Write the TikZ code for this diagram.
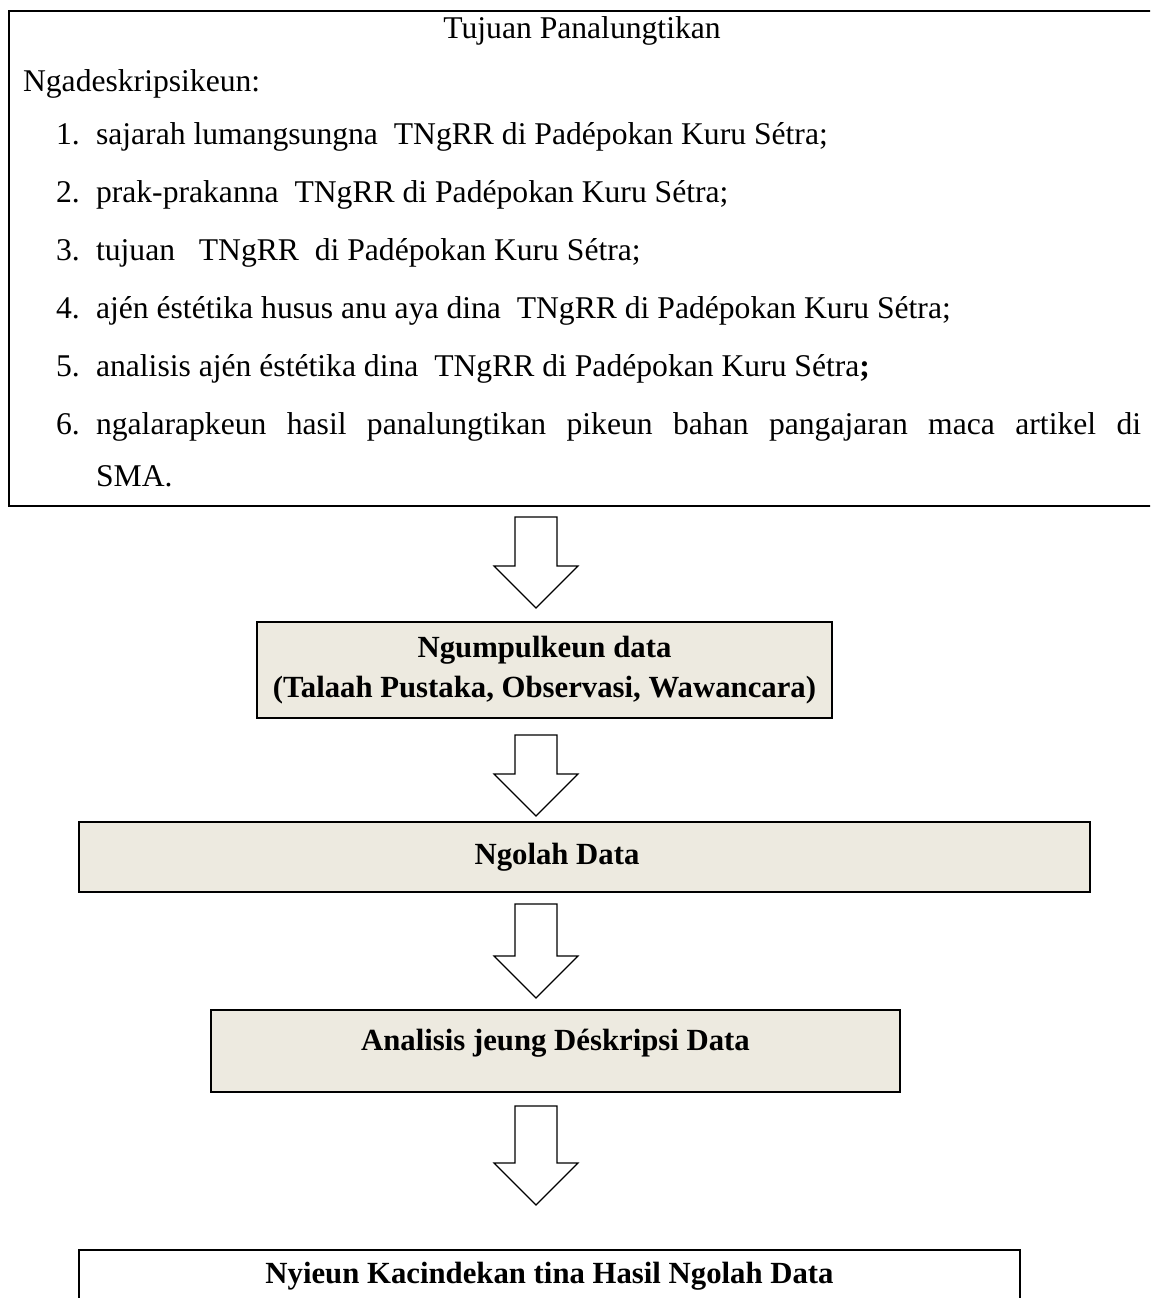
\documentclass[tikz,border=0pt]{standalone}
\usepackage{fontspec}
\setmainfont{Liberation Serif}
\usepackage{tikz}
\usetikzlibrary{calc}
\definecolor{boxfill}{RGB}{237,234,224}
\setlength{\parindent}{0pt}
\newcommand{\goalitem}[2]{\par\hangindent=1.46cm\hangafter=1\noindent\hspace*{0.66cm}\makebox[0.8cm][l]{#1}#2\par}

\begin{document}
\begin{tikzpicture}[
  goalbox/.style={draw, line width=1.2pt, anchor=north west, inner sep=0pt,
    minimum height=9.9cm, font=\fontsize{18}{33}\selectfont},
  stepbox/.style={draw, line width=1.2pt, fill=boxfill, inner sep=0pt, align=center,
    font=\fontsize{17.5}{22.8}\selectfont\bfseries},
  endbox/.style={stepbox, fill=white},
  hollowarr/.style={draw, line width=0.7pt, fill=white, line join=miter,
    to path={let \p1=(\tikztostart), \p2=(\tikztotarget) in
      (\x1-0.42cm,\y1) -- (\x1-0.42cm,\y2+0.84cm) -- (\x1-0.84cm,\y2+0.84cm)
      -- (\x1,\y2) -- (\x1+0.84cm,\y2+0.84cm) -- (\x1+0.42cm,\y2+0.84cm)
      -- (\x1+0.42cm,\y1) -- cycle}}
]
  \useasboundingbox (0,0) rectangle (23,-25.96);
  \clip (0,0) rectangle (23,-25.96);
  \coordinate (spine) at (10.72,0);
  \node[goalbox] (goal) at (0.16,-0.2) {\hspace*{0.28cm}\begin{minipage}{22.36cm}
    {\centering Tujuan Panalungtikan\par}\vspace{-3.4pt}
    Ngadeskripsikeun:\par\vspace{-2.8pt}
    \goalitem{1.}{sajarah lumangsungna\ \ TNgRR di Padépokan Kuru Sétra;}
    \goalitem{2.}{prak-prakanna\ \ TNgRR di Padépokan Kuru Sétra;}
    \goalitem{3.}{tujuan\ \ \ TNgRR\ \ di Padépokan Kuru Sétra;}
    \goalitem{4.}{ajén éstétika husus anu aya dina\ \ TNgRR di Padépokan Kuru Sétra;}
    \goalitem{5.}{analisis ajén éstétika dina\ \ TNgRR di Padépokan Kuru Sétra\textbf{;}}
    \goalitem{6.}{ngalarapkeun hasil panalungtikan pikeun bahan pangajaran maca artikel di\vadjust{\vskip-3.4pt}\linebreak SMA.\rule[-0.28cm]{0pt}{0pt}}
    \end{minipage}\hspace*{0.8cm}};
  \node[stepbox, minimum width=11.5cm, minimum height=1.92cm] (collect) at (10.89,-13.4)
    {Ngumpulkeun data\\(Talaah Pustaka, Observasi, Wawancara)};
  \node[stepbox, minimum width=20.22cm, minimum height=1.4cm] (process) at (11.69,-17.14)
    {Ngolah Data\hspace*{1.1cm}};
  \node[stepbox, minimum width=13.78cm, minimum height=1.64cm, text depth=0.44cm] (analysis) at (11.11,-21.02)
    {Analisis jeung Déskripsi Data};
  \node[endbox, anchor=north, minimum width=18.82cm, inner ysep=0.1cm, text height=0.56cm, text depth=1.5cm] (concl) at (10.99,-24.98)
    {Nyieun Kacindekan tina Hasil Ngolah Data};
  \draw[hollowarr] ($(goal.south -| spine)+(0,-0.2)$) to ($(collect.north -| spine)+(0,0.26)$);
  \draw[hollowarr] ($(collect.south -| spine)+(0,-0.32)$) to ($(process.north -| spine)+(0,0.1)$);
  \draw[hollowarr] ($(process.south -| spine)+(0,-0.22)$) to ($(analysis.north -| spine)+(0,0.22)$);
  \draw[hollowarr] ($(analysis.south -| spine)+(0,-0.26)$) to ($(concl.north -| spine)+(0,0.88)$);
\end{tikzpicture}
\end{document}
